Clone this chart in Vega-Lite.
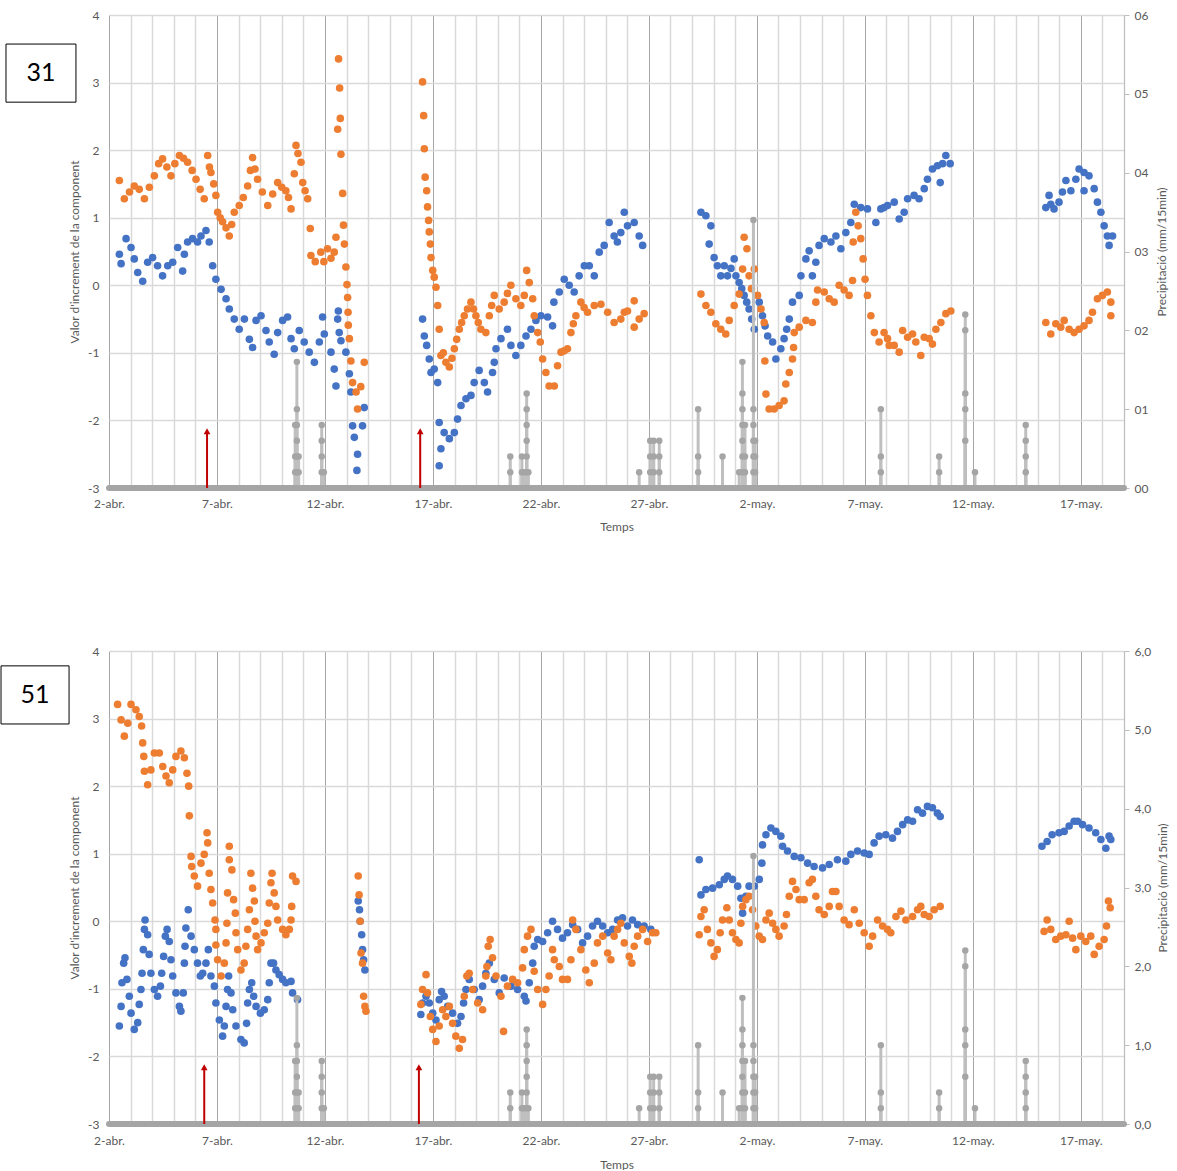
{
"$schema": "https://vega.github.io/schema/vega-lite/v6.json",
"background": "white",
"padding": {"left": 0, "top": 9, "right": 2, "bottom": 0},
"autosize": {"type": "pad"},
"bounds": "flush",
"spacing": 163,
"config": {
  "font": "Lato",
  "view": {"stroke": null},
  "axis": {"labelFont": "Lato", "titleFont": "Lato", "labelFontSize": 12, "titleFontSize": 12, "labelColor": "#595959", "titleColor": "#595959", "titleFontWeight": "normal"}
},
"datasets": {
"b1": [
{"t":0.48,"v":0.46},{"t":0.56,"v":0.32},{"t":0.79,"v":0.69},{"t":1.02,"v":0.56},{"t":1.17,"v":0.39},{"t":1.33,"v":0.19},{"t":1.56,"v":0.06},{"t":1.79,"v":0.34},{"t":2.02,"v":0.41},{"t":2.25,"v":0.29},{"t":2.48,"v":0.14},{"t":2.72,"v":0.29},{"t":2.95,"v":0.34},{"t":3.18,"v":0.56},{"t":3.41,"v":0.21},{"t":3.49,"v":0.46},{"t":3.64,"v":0.64},{"t":3.87,"v":0.69},{"t":4.10,"v":0.64},{"t":4.26,"v":0.73},{"t":4.49,"v":0.81},{"t":4.64,"v":0.64},{"t":4.80,"v":0.29},{"t":4.95,"v":0.09},{"t":5.19,"v":-0.06},{"t":5.42,"v":-0.20},{"t":5.57,"v":-0.35},{"t":5.80,"v":-0.50},{"t":6.03,"v":-0.65},{"t":6.27,"v":-0.50},{"t":6.50,"v":-0.80},{"t":6.65,"v":-0.92},{"t":6.81,"v":-0.52},{"t":7.04,"v":-0.45},{"t":7.27,"v":-0.67},{"t":7.42,"v":-0.84},{"t":7.65,"v":-1.02},{"t":7.81,"v":-0.70},{"t":8.04,"v":-0.52},{"t":8.27,"v":-0.47},{"t":8.43,"v":-0.79},{"t":8.58,"v":-0.94},{"t":8.81,"v":-0.67},{"t":9.04,"v":-0.84},{"t":9.27,"v":-0.99},{"t":9.51,"v":-1.14},{"t":9.74,"v":-0.84},{"t":9.89,"v":-0.47},{"t":9.97,"v":-0.72},{"t":10.28,"v":-0.99},{"t":10.43,"v":-1.24},{"t":10.51,"v":-1.49},{"t":10.59,"v":-0.50},{"t":10.62,"v":-0.38},{"t":10.66,"v":-0.70},{"t":10.74,"v":-0.82},{"t":10.97,"v":-0.99},{"t":11.13,"v":-1.31},{"t":11.20,"v":-1.58},{"t":11.28,"v":-2.08},{"t":11.36,"v":-2.25},{"t":11.51,"v":-2.50},{"t":11.48,"v":-2.74},{"t":11.74,"v":-2.08},{"t":11.82,"v":-1.81},
{"t":14.52,"v":-0.50},{"t":14.60,"v":-0.75},{"t":14.71,"v":-0.89},{"t":14.83,"v":-1.09},{"t":14.91,"v":-1.29},{"t":15.06,"v":-1.24},{"t":15.22,"v":-1.44},{"t":15.29,"v":-2.03},{"t":15.29,"v":-2.67},{"t":15.37,"v":-2.42},{"t":15.52,"v":-2.18},{"t":15.76,"v":-2.27},{"t":15.99,"v":-2.18},{"t":16.14,"v":-1.98},{"t":16.30,"v":-1.78},{"t":16.53,"v":-1.68},{"t":16.76,"v":-1.63},{"t":16.91,"v":-1.44},{"t":17.14,"v":-1.26},{"t":17.38,"v":-1.44},{"t":17.53,"v":-1.58},{"t":17.76,"v":-1.29},{"t":17.84,"v":-1.14},{"t":17.92,"v":-0.94},{"t":18.15,"v":-0.79},{"t":18.45,"v":-0.65},{"t":18.61,"v":-0.89},{"t":18.84,"v":-1.04},{"t":19.07,"v":-0.89},{"t":19.31,"v":-0.75},{"t":19.54,"v":-0.65},{"t":19.77,"v":-0.52},{"t":20.00,"v":-0.45},{"t":20.31,"v":-0.47},{"t":20.54,"v":-0.60},{"t":20.60,"v":-0.25},{"t":20.85,"v":-0.10},{"t":21.08,"v":0.09},{"t":21.31,"v":0.00},{"t":21.54,"v":-0.10},{"t":21.77,"v":0.14},{"t":22.01,"v":0.29},{"t":22.24,"v":0.29},{"t":22.47,"v":0.14},{"t":22.70,"v":0.49},{"t":22.93,"v":0.59},{"t":23.16,"v":0.93},{"t":23.39,"v":0.73},{"t":23.54,"v":0.64},{"t":23.70,"v":0.78},{"t":23.86,"v":1.08},{"t":24.01,"v":0.88},{"t":24.32,"v":0.93},{"t":24.55,"v":0.73},{"t":24.71,"v":0.59},
{"t":27.41,"v":1.08},{"t":27.64,"v":1.03},{"t":27.87,"v":0.88},{"t":27.79,"v":0.61},{"t":28.02,"v":0.41},{"t":28.17,"v":0.29},{"t":28.33,"v":0.14},{"t":28.49,"v":0.29},{"t":28.64,"v":0.14},{"t":28.80,"v":0.25},{"t":28.95,"v":0.39},{"t":29.03,"v":0.14},{"t":29.18,"v":0.04},{"t":29.30,"v":-0.05},{"t":29.41,"v":-0.15},{"t":29.53,"v":-0.25},{"t":29.64,"v":-0.35},{"t":29.76,"v":-0.50},{"t":29.88,"v":-0.65},{"t":30.11,"v":-0.25},{"t":30.26,"v":-0.45},{"t":30.38,"v":-0.60},{"t":30.50,"v":-0.75},{"t":30.73,"v":-0.84},{"t":30.88,"v":-1.09},{"t":31.11,"v":-0.94},{"t":31.26,"v":-0.79},{"t":31.38,"v":-0.65},{"t":31.50,"v":-0.50},{"t":31.65,"v":-0.25},{"t":31.96,"v":-0.15},{"t":32.04,"v":0.14},{"t":32.27,"v":0.39},{"t":32.42,"v":0.51},{"t":32.57,"v":0.14},{"t":32.73,"v":0.34},{"t":32.88,"v":0.59},{"t":33.12,"v":0.69},{"t":33.43,"v":0.64},{"t":33.66,"v":0.73},{"t":33.89,"v":0.54},{"t":34.12,"v":0.78},{"t":34.35,"v":0.93},{"t":34.51,"v":1.20},{"t":34.81,"v":1.15},{"t":35.12,"v":1.13},{"t":35.51,"v":0.93},{"t":35.74,"v":1.13},{"t":35.89,"v":1.15},{"t":36.05,"v":1.18},{"t":36.36,"v":1.23},{"t":36.59,"v":0.98},{"t":36.82,"v":1.08},{"t":36.98,"v":1.28},{"t":37.28,"v":1.33},{"t":37.51,"v":1.28},{"t":37.75,"v":1.43},{"t":37.90,"v":1.57},{"t":38.13,"v":1.72},{"t":38.36,"v":1.77},{"t":38.49,"v":1.52},{"t":38.60,"v":1.80},{"t":38.75,"v":1.92},{"t":38.95,"v":1.80},
{"t":43.38,"v":1.15},{"t":43.53,"v":1.33},{"t":43.61,"v":1.20},{"t":43.76,"v":1.13},{"t":43.99,"v":1.23},{"t":44.15,"v":1.38},{"t":44.31,"v":1.55},{"t":44.54,"v":1.40},{"t":44.77,"v":1.57},{"t":44.92,"v":1.72},{"t":45.15,"v":1.67},{"t":45.15,"v":1.40},{"t":45.38,"v":1.62},{"t":45.62,"v":1.43},{"t":45.77,"v":1.23},{"t":45.93,"v":1.08},{"t":46.08,"v":0.88},{"t":46.23,"v":0.73},{"t":46.31,"v":0.59},{"t":46.47,"v":0.73}
],
"o1": [
{"t":0.48,"v":1.55},{"t":0.71,"v":1.28},{"t":0.95,"v":1.38},{"t":1.17,"v":1.47},{"t":1.40,"v":1.42},{"t":1.64,"v":1.28},{"t":1.87,"v":1.45},{"t":2.10,"v":1.62},{"t":2.30,"v":1.80},{"t":2.48,"v":1.87},{"t":2.68,"v":1.75},{"t":2.87,"v":1.62},{"t":3.05,"v":1.80},{"t":3.26,"v":1.92},{"t":3.45,"v":1.88},{"t":3.64,"v":1.82},{"t":3.85,"v":1.70},{"t":4.03,"v":1.57},{"t":4.22,"v":1.42},{"t":4.41,"v":1.28},{"t":4.57,"v":1.92},{"t":4.65,"v":1.75},{"t":4.72,"v":1.67},{"t":4.85,"v":1.50},{"t":4.95,"v":1.33},{"t":5.03,"v":1.08},{"t":5.15,"v":1.00},{"t":5.26,"v":0.94},{"t":5.42,"v":0.85},{"t":5.57,"v":0.73},{"t":5.68,"v":0.90},{"t":5.80,"v":1.08},{"t":6.03,"v":1.18},{"t":6.22,"v":1.30},{"t":6.42,"v":1.47},{"t":6.55,"v":1.70},{"t":6.65,"v":1.89},{"t":6.76,"v":1.72},{"t":6.88,"v":1.57},{"t":7.10,"v":1.38},{"t":7.35,"v":1.18},{"t":7.58,"v":1.35},{"t":7.81,"v":1.52},{"t":8.00,"v":1.45},{"t":8.19,"v":1.40},{"t":8.31,"v":1.30},{"t":8.43,"v":1.13},{"t":8.58,"v":1.65},{"t":8.66,"v":2.07},{"t":8.75,"v":1.95},{"t":8.89,"v":1.82},{"t":8.97,"v":1.52},{"t":9.08,"v":1.40},{"t":9.20,"v":1.28},{"t":9.32,"v":0.84},{"t":9.35,"v":0.44},{"t":9.55,"v":0.35},{"t":9.81,"v":0.49},{"t":9.95,"v":0.35},{"t":10.12,"v":0.54},{"t":10.28,"v":0.40},{"t":10.43,"v":0.49},{"t":10.51,"v":0.71},{"t":10.59,"v":2.31},{"t":10.63,"v":3.35},{"t":10.68,"v":2.92},{"t":10.71,"v":2.47},{"t":10.74,"v":1.94},{"t":10.82,"v":1.36},{"t":10.86,"v":0.89},{"t":10.90,"v":0.61},{"t":10.97,"v":0.27},{"t":11.02,"v":0.01},{"t":11.05,"v":-0.18},{"t":11.07,"v":-0.40},{"t":11.08,"v":-0.59},{"t":11.13,"v":-0.79},{"t":11.20,"v":-1.12},{"t":11.28,"v":-1.44},{"t":11.44,"v":-1.58},{"t":11.51,"v":-1.83},{"t":11.66,"v":-1.50},{"t":11.82,"v":-1.14},
{"t":14.52,"v":3.01},{"t":14.57,"v":2.51},{"t":14.60,"v":2.02},{"t":14.64,"v":1.60},{"t":14.71,"v":1.40},{"t":14.75,"v":1.16},{"t":14.80,"v":0.96},{"t":14.83,"v":0.79},{"t":14.88,"v":0.61},{"t":14.91,"v":0.41},{"t":14.99,"v":0.22},{"t":15.06,"v":0.12},{"t":15.14,"v":-0.03},{"t":15.22,"v":-0.30},{"t":15.29,"v":-0.65},{"t":15.37,"v":-1.04},{"t":15.48,"v":-1.00},{"t":15.60,"v":-1.14},{"t":15.76,"v":-1.21},{"t":15.88,"v":-1.08},{"t":15.99,"v":-0.94},{"t":16.10,"v":-0.80},{"t":16.22,"v":-0.65},{"t":16.33,"v":-0.55},{"t":16.45,"v":-0.45},{"t":16.60,"v":-0.35},{"t":16.76,"v":-0.25},{"t":16.88,"v":-0.35},{"t":16.99,"v":-0.45},{"t":17.10,"v":-0.55},{"t":17.22,"v":-0.65},{"t":17.45,"v":-0.70},{"t":17.61,"v":-0.45},{"t":17.72,"v":-0.30},{"t":17.84,"v":-0.15},{"t":18.07,"v":-0.35},{"t":18.30,"v":-0.25},{"t":18.45,"v":-0.12},{"t":18.61,"v":0.00},{"t":18.84,"v":-0.20},{"t":19.07,"v":-0.30},{"t":19.23,"v":-0.15},{"t":19.34,"v":0.22},{"t":19.46,"v":0.04},{"t":19.62,"v":-0.20},{"t":19.69,"v":-0.45},{"t":19.85,"v":-0.70},{"t":19.97,"v":-0.84},{"t":20.08,"v":-1.09},{"t":20.23,"v":-1.29},{"t":20.38,"v":-1.49},{"t":20.62,"v":-1.49},{"t":20.77,"v":-1.19},{"t":20.93,"v":-0.99},{"t":21.08,"v":-0.97},{"t":21.23,"v":-0.94},{"t":21.39,"v":-0.70},{"t":21.50,"v":-0.57},{"t":21.62,"v":-0.45},{"t":21.85,"v":-0.25},{"t":22.00,"v":-0.33},{"t":22.16,"v":-0.40},{"t":22.47,"v":-0.30},{"t":22.78,"v":-0.28},{"t":23.09,"v":-0.40},{"t":23.39,"v":-0.55},{"t":23.70,"v":-0.50},{"t":23.86,"v":-0.40},{"t":24.01,"v":-0.38},{"t":24.32,"v":-0.23},{"t":24.32,"v":-0.62},{"t":24.55,"v":-0.50},{"t":24.78,"v":-0.42},
{"t":27.41,"v":-0.13},{"t":27.64,"v":-0.30},{"t":27.87,"v":-0.40},{"t":28.10,"v":-0.57},{"t":28.33,"v":-0.65},{"t":28.56,"v":-0.72},{"t":28.72,"v":-0.52},{"t":28.95,"v":-0.30},{"t":29.18,"v":-0.13},{"t":29.34,"v":0.24},{"t":29.41,"v":0.71},{"t":29.54,"v":0.54},{"t":29.64,"v":0.14},{"t":29.75,"v":-0.05},{"t":29.88,"v":0.24},{"t":30.03,"v":-0.15},{"t":30.19,"v":-0.35},{"t":30.34,"v":-0.55},{"t":30.37,"v":-1.12},{"t":30.42,"v":-1.61},{"t":30.57,"v":-1.83},{"t":30.80,"v":-1.83},{"t":31.03,"v":-1.78},{"t":31.26,"v":-1.71},{"t":31.34,"v":-1.46},{"t":31.50,"v":-1.29},{"t":31.65,"v":-1.09},{"t":31.70,"v":-0.92},{"t":31.73,"v":-0.70},{"t":31.96,"v":-0.62},{"t":32.27,"v":-0.52},{"t":32.57,"v":-0.55},{"t":32.73,"v":-0.25},{"t":32.81,"v":-0.07},{"t":33.12,"v":-0.10},{"t":33.35,"v":-0.20},{"t":33.58,"v":-0.25},{"t":33.81,"v":0.00},{"t":34.04,"v":-0.07},{"t":34.27,"v":-0.15},{"t":34.43,"v":0.07},{"t":34.46,"v":0.64},{"t":34.58,"v":1.08},{"t":34.69,"v":0.88},{"t":34.81,"v":0.69},{"t":34.92,"v":0.39},{"t":35.01,"v":0.09},{"t":35.12,"v":-0.15},{"t":35.28,"v":-0.45},{"t":35.44,"v":-0.70},{"t":35.66,"v":-0.84},{"t":35.89,"v":-0.70},{"t":36.05,"v":-0.79},{"t":36.13,"v":-0.89},{"t":36.36,"v":-0.89},{"t":36.59,"v":-0.99},{"t":36.75,"v":-0.67},{"t":36.98,"v":-0.77},{"t":37.21,"v":-0.72},{"t":37.36,"v":-0.84},{"t":37.59,"v":-1.04},{"t":37.75,"v":-0.77},{"t":37.98,"v":-0.79},{"t":38.13,"v":-0.87},{"t":38.29,"v":-0.65},{"t":38.52,"v":-0.55},{"t":38.75,"v":-0.42},{"t":38.98,"v":-0.38},
{"t":43.38,"v":-0.55},{"t":43.61,"v":-0.72},{"t":43.84,"v":-0.57},{"t":44.07,"v":-0.62},{"t":44.23,"v":-0.52},{"t":44.46,"v":-0.65},{"t":44.69,"v":-0.70},{"t":44.92,"v":-0.65},{"t":45.15,"v":-0.60},{"t":45.38,"v":-0.52},{"t":45.54,"v":-0.40},{"t":45.77,"v":-0.20},{"t":46.00,"v":-0.15},{"t":46.23,"v":-0.10},{"t":46.39,"v":-0.25},{"t":46.39,"v":-0.45}
],
"b2": [
{"t":0.48,"v":-1.55},{"t":0.56,"v":-1.26},{"t":0.60,"v":-0.91},{"t":0.68,"v":-0.62},{"t":0.74,"v":-0.54},{"t":0.83,"v":-0.86},{"t":0.94,"v":-1.11},{"t":1.02,"v":-1.36},{"t":1.17,"v":-1.60},{"t":1.33,"v":-1.50},{"t":1.40,"v":-1.23},{"t":1.48,"v":-1.01},{"t":1.53,"v":-0.77},{"t":1.59,"v":-0.42},{"t":1.64,"v":-0.12},{"t":1.67,"v":0.02},{"t":1.79,"v":-0.20},{"t":1.86,"v":-0.49},{"t":1.94,"v":-0.77},{"t":2.10,"v":-1.01},{"t":2.25,"v":-1.11},{"t":2.38,"v":-0.96},{"t":2.44,"v":-0.77},{"t":2.53,"v":-0.52},{"t":2.61,"v":-0.22},{"t":2.69,"v":-0.12},{"t":2.79,"v":-0.30},{"t":2.87,"v":-0.57},{"t":2.95,"v":-0.81},{"t":3.10,"v":-1.06},{"t":3.26,"v":-1.26},{"t":3.33,"v":-1.33},{"t":3.44,"v":-1.06},{"t":3.49,"v":-0.62},{"t":3.52,"v":-0.37},{"t":3.56,"v":-0.10},{"t":3.67,"v":0.17},{"t":3.80,"v":-0.22},{"t":3.95,"v":-0.42},{"t":4.10,"v":-0.62},{"t":4.23,"v":-0.81},{"t":4.34,"v":-0.77},{"t":4.49,"v":-0.62},{"t":4.60,"v":-0.42},{"t":4.72,"v":-0.81},{"t":4.88,"v":-0.96},{"t":4.95,"v":-1.21},{"t":5.11,"v":-1.46},{"t":5.26,"v":-1.70},{"t":5.34,"v":-1.55},{"t":5.42,"v":-1.26},{"t":5.49,"v":-1.01},{"t":5.54,"v":-0.81},{"t":5.65,"v":-1.06},{"t":5.73,"v":-1.31},{"t":5.88,"v":-1.55},{"t":6.11,"v":-1.75},{"t":6.26,"v":-1.80},{"t":6.37,"v":-1.51},{"t":6.42,"v":-1.21},{"t":6.50,"v":-1.01},{"t":6.61,"v":-0.91},{"t":6.70,"v":-1.11},{"t":6.81,"v":-1.26},{"t":7.01,"v":-1.36},{"t":7.19,"v":-1.31},{"t":7.35,"v":-1.16},{"t":7.42,"v":-0.91},{"t":7.50,"v":-0.62},{"t":7.62,"v":-0.62},{"t":7.73,"v":-0.72},{"t":7.88,"v":-0.79},{"t":8.04,"v":-0.86},{"t":8.19,"v":-0.91},{"t":8.43,"v":-0.89},{"t":8.50,"v":-1.06},{"t":8.73,"v":-1.16},
{"t":11.54,"v":0.30},{"t":11.60,"v":0.17},{"t":11.63,"v":0.00},{"t":11.70,"v":-0.20},{"t":11.74,"v":-0.42},{"t":11.79,"v":-0.57},{"t":11.85,"v":-0.72},
{"t":14.44,"v":-1.38},{"t":14.52,"v":-1.21},{"t":14.68,"v":-1.11},{"t":14.83,"v":-1.21},{"t":14.99,"v":-1.36},{"t":15.14,"v":-1.46},{"t":15.29,"v":-1.16},{"t":15.40,"v":-1.04},{"t":15.52,"v":-1.11},{"t":15.68,"v":-1.26},{"t":15.91,"v":-1.36},{"t":16.14,"v":-1.51},{"t":16.30,"v":-1.41},{"t":16.42,"v":-1.21},{"t":16.53,"v":-1.01},{"t":16.68,"v":-0.86},{"t":16.91,"v":-1.01},{"t":17.14,"v":-1.16},{"t":17.30,"v":-0.96},{"t":17.45,"v":-0.77},{"t":17.61,"v":-0.62},{"t":17.84,"v":-0.86},{"t":18.07,"v":-1.06},{"t":18.30,"v":-0.84},{"t":18.61,"v":-0.96},{"t":18.92,"v":-1.01},{"t":19.23,"v":-1.11},{"t":19.31,"v":-1.18},{"t":19.46,"v":-0.91},{"t":19.62,"v":-0.62},{"t":19.69,"v":-0.37},{"t":19.85,"v":-0.27},{"t":20.08,"v":-0.30},{"t":20.31,"v":-0.17},{"t":20.54,"v":0.00},{"t":20.77,"v":-0.12},{"t":21.00,"v":-0.25},{"t":21.23,"v":-0.17},{"t":21.47,"v":-0.05},{"t":21.70,"v":-0.12},{"t":21.93,"v":-0.32},{"t":22.16,"v":-0.22},{"t":22.39,"v":-0.07},{"t":22.62,"v":0.00},{"t":22.86,"v":-0.07},{"t":23.09,"v":-0.17},{"t":23.32,"v":-0.12},{"t":23.55,"v":0.02},{"t":23.78,"v":0.05},{"t":24.01,"v":-0.07},{"t":24.24,"v":0.02},{"t":24.48,"v":-0.05},{"t":24.78,"v":-0.07},{"t":25.09,"v":-0.12},
{"t":27.33,"v":0.91},{"t":27.41,"v":0.39},{"t":27.64,"v":0.47},{"t":27.95,"v":0.49},{"t":28.26,"v":0.54},{"t":28.49,"v":0.62},{"t":28.64,"v":0.67},{"t":28.87,"v":0.62},{"t":29.11,"v":0.52},{"t":29.26,"v":0.34},{"t":29.34,"v":0.12},{"t":29.49,"v":0.37},{"t":29.64,"v":0.52},{"t":29.88,"v":0.52},{"t":30.11,"v":0.62},{"t":30.23,"v":0.86},{"t":30.26,"v":1.13},{"t":30.42,"v":1.28},{"t":30.65,"v":1.38},{"t":30.88,"v":1.33},{"t":31.11,"v":1.26},{"t":31.19,"v":1.11},{"t":31.42,"v":1.04},{"t":31.73,"v":0.96},{"t":32.04,"v":0.94},{"t":32.35,"v":0.86},{"t":32.65,"v":0.81},{"t":33.04,"v":0.79},{"t":33.35,"v":0.84},{"t":33.73,"v":0.91},{"t":34.12,"v":0.89},{"t":34.35,"v":0.99},{"t":34.66,"v":1.04},{"t":34.97,"v":1.01},{"t":35.20,"v":0.99},{"t":35.43,"v":1.16},{"t":35.66,"v":1.26},{"t":35.97,"v":1.28},{"t":36.28,"v":1.23},{"t":36.51,"v":1.33},{"t":36.75,"v":1.43},{"t":36.98,"v":1.50},{"t":37.21,"v":1.48},{"t":37.44,"v":1.65},{"t":37.67,"v":1.60},{"t":37.90,"v":1.70},{"t":38.13,"v":1.68},{"t":38.36,"v":1.60},{"t":38.49,"v":1.55},
{"t":43.20,"v":1.11},{"t":43.44,"v":1.18},{"t":43.67,"v":1.28},{"t":43.99,"v":1.31},{"t":44.23,"v":1.33},{"t":44.46,"v":1.41},{"t":44.69,"v":1.48},{"t":44.85,"v":1.48},{"t":45.08,"v":1.43},{"t":45.38,"v":1.38},{"t":45.69,"v":1.31},{"t":45.93,"v":1.21},{"t":46.16,"v":1.08},{"t":46.31,"v":1.26},{"t":46.39,"v":1.21}
],
"o2": [
{"t":0.40,"v":3.21},{"t":0.56,"v":2.98},{"t":0.71,"v":2.74},{"t":0.87,"v":2.93},{"t":1.02,"v":3.21},{"t":1.25,"v":3.13},{"t":1.40,"v":3.03},{"t":1.51,"v":2.89},{"t":1.56,"v":2.64},{"t":1.61,"v":2.44},{"t":1.64,"v":2.22},{"t":1.79,"v":2.02},{"t":1.94,"v":2.24},{"t":2.10,"v":2.49},{"t":2.33,"v":2.49},{"t":2.49,"v":2.29},{"t":2.64,"v":2.15},{"t":2.79,"v":2.05},{"t":2.95,"v":2.24},{"t":3.10,"v":2.44},{"t":3.33,"v":2.52},{"t":3.49,"v":2.42},{"t":3.61,"v":2.19},{"t":3.69,"v":2.00},{"t":3.72,"v":1.56},{"t":3.80,"v":0.96},{"t":3.83,"v":0.81},{"t":3.95,"v":0.67},{"t":4.10,"v":0.52},{"t":4.26,"v":0.86},{"t":4.41,"v":0.99},{"t":4.54,"v":1.31},{"t":4.57,"v":1.16},{"t":4.64,"v":0.71},{"t":4.72,"v":0.47},{"t":4.80,"v":0.27},{"t":4.91,"v":0.02},{"t":4.95,"v":-0.12},{"t":4.95,"v":-0.35},{"t":5.03,"v":-0.57},{"t":5.19,"v":-0.81},{"t":5.34,"v":-0.62},{"t":5.42,"v":-0.32},{"t":5.46,"v":-0.03},{"t":5.49,"v":0.42},{"t":5.57,"v":0.91},{"t":5.57,"v":1.11},{"t":5.69,"v":0.76},{"t":5.77,"v":0.32},{"t":5.85,"v":0.12},{"t":5.88,"v":-0.17},{"t":5.96,"v":-0.42},{"t":6.11,"v":-0.72},{"t":6.26,"v":-0.62},{"t":6.34,"v":-0.37},{"t":6.42,"v":-0.12},{"t":6.50,"v":0.17},{"t":6.57,"v":0.71},{"t":6.65,"v":0.49},{"t":6.73,"v":0.30},{"t":6.76,"v":0.00},{"t":6.81,"v":-0.22},{"t":6.88,"v":-0.42},{"t":7.04,"v":-0.32},{"t":7.19,"v":-0.17},{"t":7.35,"v":-0.03},{"t":7.42,"v":0.27},{"t":7.50,"v":0.57},{"t":7.55,"v":0.71},{"t":7.65,"v":0.42},{"t":7.73,"v":0.22},{"t":7.81,"v":0.02},{"t":8.04,"v":-0.12},{"t":8.19,"v":-0.20},{"t":8.35,"v":-0.12},{"t":8.43,"v":0.02},{"t":8.46,"v":0.22},{"t":8.50,"v":0.67},{"t":8.66,"v":0.59},
{"t":11.54,"v":0.67},{"t":11.58,"v":0.39},{"t":11.63,"v":0.00},{"t":11.67,"v":-0.47},{"t":11.74,"v":-0.62},{"t":11.79,"v":-1.11},{"t":11.85,"v":-1.26},{"t":11.90,"v":-1.33},
{"t":14.44,"v":-1.23},{"t":14.52,"v":-1.01},{"t":14.68,"v":-0.79},{"t":14.75,"v":-1.06},{"t":14.88,"v":-1.41},{"t":14.99,"v":-1.60},{"t":15.14,"v":-1.78},{"t":15.29,"v":-1.55},{"t":15.45,"v":-1.31},{"t":15.60,"v":-1.41},{"t":15.76,"v":-1.26},{"t":15.91,"v":-1.51},{"t":16.06,"v":-1.70},{"t":16.22,"v":-1.88},{"t":16.37,"v":-1.75},{"t":16.45,"v":-1.11},{"t":16.57,"v":-0.81},{"t":16.68,"v":-0.77},{"t":16.84,"v":-1.01},{"t":17.07,"v":-1.21},{"t":17.30,"v":-1.31},{"t":17.45,"v":-0.81},{"t":17.50,"v":-0.67},{"t":17.56,"v":-0.37},{"t":17.65,"v":-0.27},{"t":17.76,"v":-0.54},{"t":17.92,"v":-0.81},{"t":18.15,"v":-1.11},{"t":18.27,"v":-1.63},{"t":18.45,"v":-0.96},{"t":18.69,"v":-0.86},{"t":18.92,"v":-0.91},{"t":19.15,"v":-0.69},{"t":19.23,"v":-0.42},{"t":19.38,"v":-0.22},{"t":19.54,"v":-0.12},{"t":19.69,"v":-0.74},{"t":19.85,"v":-1.01},{"t":20.08,"v":-1.23},{"t":20.23,"v":-1.01},{"t":20.38,"v":-0.81},{"t":20.54,"v":-0.42},{"t":20.62,"v":-0.57},{"t":20.85,"v":-0.67},{"t":21.00,"v":-0.86},{"t":21.23,"v":-0.86},{"t":21.39,"v":-0.57},{"t":21.47,"v":0.02},{"t":21.62,"v":-0.12},{"t":21.85,"v":-0.42},{"t":22.08,"v":-0.72},{"t":22.24,"v":-0.91},{"t":22.47,"v":-0.62},{"t":22.62,"v":-0.32},{"t":22.86,"v":-0.22},{"t":23.09,"v":-0.47},{"t":23.24,"v":-0.57},{"t":23.39,"v":-0.22},{"t":23.55,"v":-0.12},{"t":23.70,"v":-0.03},{"t":23.86,"v":-0.32},{"t":24.09,"v":-0.52},{"t":24.21,"v":-0.62},{"t":24.32,"v":-0.37},{"t":24.48,"v":-0.22},{"t":24.71,"v":-0.12},{"t":24.94,"v":-0.30},{"t":25.17,"v":-0.17},{"t":25.32,"v":-0.17},
{"t":27.33,"v":-0.20},{"t":27.41,"v":0.07},{"t":27.56,"v":0.17},{"t":27.71,"v":-0.12},{"t":27.87,"v":-0.32},{"t":28.02,"v":-0.52},{"t":28.17,"v":-0.42},{"t":28.30,"v":-0.17},{"t":28.41,"v":0.02},{"t":28.61,"v":0.20},{"t":28.72,"v":0.02},{"t":28.87,"v":-0.17},{"t":29.03,"v":-0.27},{"t":29.18,"v":-0.32},{"t":29.26,"v":-0.03},{"t":29.34,"v":0.22},{"t":29.49,"v":0.32},{"t":29.64,"v":0.37},{"t":29.80,"v":0.17},{"t":29.95,"v":-0.07},{"t":30.11,"v":-0.22},{"t":30.26,"v":-0.27},{"t":30.42,"v":0.02},{"t":30.57,"v":0.12},{"t":30.73,"v":-0.03},{"t":30.88,"v":-0.12},{"t":31.03,"v":-0.22},{"t":31.26,"v":-0.07},{"t":31.37,"v":0.10},{"t":31.50,"v":0.37},{"t":31.65,"v":0.59},{"t":31.81,"v":0.47},{"t":31.96,"v":0.32},{"t":32.19,"v":0.32},{"t":32.42,"v":0.57},{"t":32.57,"v":0.62},{"t":32.73,"v":0.37},{"t":32.88,"v":0.17},{"t":33.12,"v":0.10},{"t":33.35,"v":0.22},{"t":33.50,"v":0.44},{"t":33.66,"v":0.44},{"t":33.81,"v":0.22},{"t":34.04,"v":0.02},{"t":34.27,"v":-0.05},{"t":34.51,"v":0.17},{"t":34.74,"v":-0.03},{"t":34.97,"v":-0.17},{"t":35.20,"v":-0.37},{"t":35.36,"v":-0.22},{"t":35.59,"v":0.02},{"t":35.82,"v":-0.07},{"t":36.05,"v":-0.12},{"t":36.20,"v":-0.17},{"t":36.44,"v":0.07},{"t":36.67,"v":0.15},{"t":36.90,"v":0.02},{"t":37.21,"v":0.07},{"t":37.44,"v":0.17},{"t":37.59,"v":0.22},{"t":37.75,"v":0.10},{"t":37.98,"v":0.07},{"t":38.21,"v":0.17},{"t":38.49,"v":0.22},
{"t":43.30,"v":-0.15},{"t":43.44,"v":0.02},{"t":43.61,"v":-0.12},{"t":43.84,"v":-0.27},{"t":44.07,"v":-0.22},{"t":44.31,"v":-0.20},{"t":44.46,"v":0.00},{"t":44.62,"v":-0.25},{"t":44.77,"v":-0.42},{"t":45.00,"v":-0.22},{"t":45.23,"v":-0.30},{"t":45.46,"v":-0.22},{"t":45.62,"v":-0.49},{"t":45.85,"v":-0.37},{"t":46.08,"v":-0.27},{"t":46.19,"v":-0.07},{"t":46.28,"v":0.30},{"t":46.36,"v":0.20}
],
"rain": [
{"t":8.62,"p":0.2},{"t":8.62,"p":0.4},{"t":8.62,"p":0.8},
{"t":8.70,"p":0.2},{"t":8.70,"p":0.4},{"t":8.70,"p":0.6},{"t":8.70,"p":0.8},{"t":8.70,"p":1.0},{"t":8.70,"p":1.6},
{"t":8.78,"p":0.2},{"t":8.78,"p":0.4},
{"t":9.85,"p":0.2},{"t":9.85,"p":0.4},{"t":9.85,"p":0.6},{"t":9.85,"p":0.8},{"t":9.95,"p":0.2},
{"t":18.58,"p":0.2},{"t":18.58,"p":0.4},
{"t":19.12,"p":0.2},{"t":19.12,"p":0.4},{"t":19.22,"p":0.2},
{"t":19.34,"p":0.2},{"t":19.34,"p":0.4},{"t":19.34,"p":0.6},{"t":19.34,"p":0.8},{"t":19.34,"p":1.0},{"t":19.34,"p":1.2},{"t":19.42,"p":0.2},
{"t":24.55,"p":0.2},
{"t":25.06,"p":0.2},{"t":25.06,"p":0.4},{"t":25.06,"p":0.6},
{"t":25.22,"p":0.2},{"t":25.22,"p":0.4},{"t":25.22,"p":0.6},
{"t":25.48,"p":0.2},{"t":25.48,"p":0.4},{"t":25.48,"p":0.6},
{"t":27.28,"p":0.2},{"t":27.28,"p":0.4},{"t":27.28,"p":1.0},
{"t":28.41,"p":0.4},
{"t":29.18,"p":0.2},
{"t":29.33,"p":0.2},{"t":29.33,"p":0.4},{"t":29.33,"p":0.6},{"t":29.33,"p":0.8},{"t":29.33,"p":1.0},{"t":29.33,"p":1.2},{"t":29.33,"p":1.6},
{"t":29.45,"p":0.2},{"t":29.45,"p":0.4},{"t":29.45,"p":0.8},
{"t":29.84,"p":0.2},{"t":29.84,"p":0.4},{"t":29.84,"p":0.6},{"t":29.84,"p":0.8},{"t":29.84,"p":1.0},{"t":29.84,"p":3.4},
{"t":29.92,"p":0.2},{"t":29.92,"p":0.4},{"t":29.92,"p":0.6},
{"t":35.74,"p":0.2},{"t":35.74,"p":0.4},{"t":35.74,"p":1.0},
{"t":38.44,"p":0.2},{"t":38.44,"p":0.4},
{"t":39.65,"p":0.6},{"t":39.65,"p":1.0},{"t":39.65,"p":1.2},{"t":39.65,"p":2.0},{"t":39.65,"p":2.2},
{"t":40.10,"p":0.2},
{"t":42.45,"p":0.2},{"t":42.45,"p":0.4},{"t":42.45,"p":0.6},{"t":42.45,"p":0.8}
],
"arr1": [{"t":4.54},{"t":14.41}],
"arr2": [{"t":4.41},{"t":14.35}]
},
"vconcat": [
{
"width": 1015, "height": 473,
"resolve": {"scale": {"y": "independent"}, "axis": {"y": "independent"}},
"layer": [
{"data": {"name": "b1"}, "mark": {"type": "circle", "size": 58, "color": "#4472C4", "opacity": 1},
 "encoding": {
  "x": {"field": "t", "type": "quantitative", "title": "Temps", "scale": {"domain": [0, 47], "nice": false, "zero": false},
   "axis": {"values": [0,1,2,3,4,5,6,7,8,9,10,11,12,13,14,15,16,17,18,19,20,21,22,23,24,25,26,27,28,29,30,31,32,33,34,35,36,37,38,39,40,41,42,43,44,45,46,47], "labelExpr": "datum.value % 5 === 0 ? (datum.value < 29 ? (datum.value + 2) + '-abr.' : (datum.value - 28) + '-may.') : ''", "labelOverlap": false, "labelFlush": false, "ticks": false, "domain": false, "grid": true, "gridColor": {"condition": {"test": "datum.value % 5 === 0", "value": "#A6A6A6"}, "value": "#D9D9D9"}, "gridWidth": {"condition": {"test": "datum.value % 5 === 0", "value": 1}, "value": 1.5}, "labelPadding": 10, "titlePadding": 12, "title": "Temps"}},
  "y": {"field": "v", "type": "quantitative", "scale": {"domain": [-3, 4], "nice": false, "zero": false},
   "axis": {"values": [-3,-2,-1,0,1,2,3,4], "labelExpr": "'' + datum.value", "labelFlush": false, "ticks": false, "domain": false, "grid": true, "gridColor": "#D9D9D9", "gridWidth": 1.5, "labelPadding": 10, "titlePadding": 6, "title": "Valor d'increment de la component"}}
 }},
{"data": {"name": "o1"}, "mark": {"type": "circle", "size": 58, "color": "#ED7D31", "opacity": 1},
 "encoding": {
  "x": {"field": "t", "type": "quantitative", "title": "Temps", "scale": {"domain": [0, 47], "nice": false, "zero": false},
   "axis": {"values": [0,1,2,3,4,5,6,7,8,9,10,11,12,13,14,15,16,17,18,19,20,21,22,23,24,25,26,27,28,29,30,31,32,33,34,35,36,37,38,39,40,41,42,43,44,45,46,47], "labelExpr": "datum.value % 5 === 0 ? (datum.value < 29 ? (datum.value + 2) + '-abr.' : (datum.value - 28) + '-may.') : ''", "labelOverlap": false, "labelFlush": false, "ticks": false, "domain": false, "grid": true, "gridColor": {"condition": {"test": "datum.value % 5 === 0", "value": "#A6A6A6"}, "value": "#D9D9D9"}, "gridWidth": {"condition": {"test": "datum.value % 5 === 0", "value": 1}, "value": 1.5}, "labelPadding": 10, "titlePadding": 12, "title": "Temps"}},
  "y": {"field": "v", "type": "quantitative", "scale": {"domain": [-3, 4], "nice": false, "zero": false}, "axis": null}
 }},
{"data": {"name": "rain"}, "mark": {"type": "rule", "color": "#BFBFBF", "strokeWidth": 3},
 "encoding": {
  "x": {"field": "t", "type": "quantitative", "title": "Temps", "scale": {"domain": [0, 47], "nice": false, "zero": false},
   "axis": {"values": [0,1,2,3,4,5,6,7,8,9,10,11,12,13,14,15,16,17,18,19,20,21,22,23,24,25,26,27,28,29,30,31,32,33,34,35,36,37,38,39,40,41,42,43,44,45,46,47], "labelExpr": "datum.value % 5 === 0 ? (datum.value < 29 ? (datum.value + 2) + '-abr.' : (datum.value - 28) + '-may.') : ''", "labelOverlap": false, "labelFlush": false, "ticks": false, "domain": false, "grid": true, "gridColor": {"condition": {"test": "datum.value % 5 === 0", "value": "#A6A6A6"}, "value": "#D9D9D9"}, "gridWidth": {"condition": {"test": "datum.value % 5 === 0", "value": 1}, "value": 1.5}, "labelPadding": 10, "titlePadding": 12, "title": "Temps"}},
  "y": {"field": "p", "type": "quantitative", "scale": {"domain": [0, 6], "nice": false, "zero": false},
   "axis": {"orient": "right", "values": [0,1,2,3,4,5,6], "labelExpr": "'0' + datum.value", "labelFlush": false, "grid": false, "ticks": true, "tickSize": 5, "tickColor": "#BFBFBF", "domain": true, "domainColor": "#BFBFBF", "labelPadding": 5, "titlePadding": 9, "titleAngle": 270, "titleBaseline": "top", "title": "Precipitació (mm/15min)"}},
  "y2": {"datum": 0}
 }},
{"data": {"name": "rain"}, "mark": {"type": "circle", "size": 42, "color": "#A5A5A5", "opacity": 1},
 "encoding": {
  "x": {"field": "t", "type": "quantitative", "title": "Temps", "scale": {"domain": [0, 47], "nice": false, "zero": false},
   "axis": {"values": [0,1,2,3,4,5,6,7,8,9,10,11,12,13,14,15,16,17,18,19,20,21,22,23,24,25,26,27,28,29,30,31,32,33,34,35,36,37,38,39,40,41,42,43,44,45,46,47], "labelExpr": "datum.value % 5 === 0 ? (datum.value < 29 ? (datum.value + 2) + '-abr.' : (datum.value - 28) + '-may.') : ''", "labelOverlap": false, "labelFlush": false, "ticks": false, "domain": false, "grid": true, "gridColor": {"condition": {"test": "datum.value % 5 === 0", "value": "#A6A6A6"}, "value": "#D9D9D9"}, "gridWidth": {"condition": {"test": "datum.value % 5 === 0", "value": 1}, "value": 1.5}, "labelPadding": 10, "titlePadding": 12, "title": "Temps"}},
  "y": {"field": "p", "type": "quantitative", "scale": {"domain": [0, 6], "nice": false, "zero": false}, "axis": null}
 }},
{"data": {"values": [{}]}, "mark": {"type": "rule", "color": "#A5A5A5", "strokeWidth": 6, "strokeCap": "round"},
 "encoding": {
  "x": {"datum": 0, "type": "quantitative", "title": "Temps", "scale": {"domain": [0, 47], "nice": false, "zero": false},
   "axis": {"values": [0,1,2,3,4,5,6,7,8,9,10,11,12,13,14,15,16,17,18,19,20,21,22,23,24,25,26,27,28,29,30,31,32,33,34,35,36,37,38,39,40,41,42,43,44,45,46,47], "labelExpr": "datum.value % 5 === 0 ? (datum.value < 29 ? (datum.value + 2) + '-abr.' : (datum.value - 28) + '-may.') : ''", "labelOverlap": false, "labelFlush": false, "ticks": false, "domain": false, "grid": true, "gridColor": {"condition": {"test": "datum.value % 5 === 0", "value": "#A6A6A6"}, "value": "#D9D9D9"}, "gridWidth": {"condition": {"test": "datum.value % 5 === 0", "value": 1}, "value": 1.5}, "labelPadding": 10, "titlePadding": 12, "title": "Temps"}},
  "x2": {"datum": 47},
  "y": {"datum": 0, "type": "quantitative", "scale": {"domain": [0, 6], "nice": false, "zero": false}, "axis": null}
 }},
{"data": {"name": "arr1"}, "mark": {"type": "rule", "color": "#C00000", "strokeWidth": 2},
 "encoding": {
  "x": {"field": "t", "type": "quantitative", "title": "Temps", "scale": {"domain": [0, 47], "nice": false, "zero": false},
   "axis": {"values": [0,1,2,3,4,5,6,7,8,9,10,11,12,13,14,15,16,17,18,19,20,21,22,23,24,25,26,27,28,29,30,31,32,33,34,35,36,37,38,39,40,41,42,43,44,45,46,47], "labelExpr": "datum.value % 5 === 0 ? (datum.value < 29 ? (datum.value + 2) + '-abr.' : (datum.value - 28) + '-may.') : ''", "labelOverlap": false, "labelFlush": false, "ticks": false, "domain": false, "grid": true, "gridColor": {"condition": {"test": "datum.value % 5 === 0", "value": "#A6A6A6"}, "value": "#D9D9D9"}, "gridWidth": {"condition": {"test": "datum.value % 5 === 0", "value": 1}, "value": 1.5}, "labelPadding": 10, "titlePadding": 12, "title": "Temps"}},
  "y": {"datum": -3, "type": "quantitative", "scale": {"domain": [-3, 4], "nice": false, "zero": false}, "axis": null},
  "y2": {"datum": -2.18}
 }},
{"data": {"name": "arr1"}, "mark": {"type": "point", "shape": "triangle-up", "filled": true, "color": "#C00000", "size": 45, "opacity": 1},
 "encoding": {
  "x": {"field": "t", "type": "quantitative", "title": "Temps", "scale": {"domain": [0, 47], "nice": false, "zero": false},
   "axis": {"values": [0,1,2,3,4,5,6,7,8,9,10,11,12,13,14,15,16,17,18,19,20,21,22,23,24,25,26,27,28,29,30,31,32,33,34,35,36,37,38,39,40,41,42,43,44,45,46,47], "labelExpr": "datum.value % 5 === 0 ? (datum.value < 29 ? (datum.value + 2) + '-abr.' : (datum.value - 28) + '-may.') : ''", "labelOverlap": false, "labelFlush": false, "ticks": false, "domain": false, "grid": true, "gridColor": {"condition": {"test": "datum.value % 5 === 0", "value": "#A6A6A6"}, "value": "#D9D9D9"}, "gridWidth": {"condition": {"test": "datum.value % 5 === 0", "value": 1}, "value": 1.5}, "labelPadding": 10, "titlePadding": 12, "title": "Temps"}},
  "y": {"datum": -2.16, "type": "quantitative", "scale": {"domain": [-3, 4], "nice": false, "zero": false}, "axis": null}
 }},
{"data": {"values": [{"label": "31"}]}, "mark": {"type": "rect", "fill": "white", "stroke": "black", "strokeWidth": 1},
 "encoding": {
  "x": {"datum": -4.77, "type": "quantitative", "title": "Temps", "scale": {"domain": [0, 47], "nice": false, "zero": false},
   "axis": {"values": [0,1,2,3,4,5,6,7,8,9,10,11,12,13,14,15,16,17,18,19,20,21,22,23,24,25,26,27,28,29,30,31,32,33,34,35,36,37,38,39,40,41,42,43,44,45,46,47], "labelExpr": "datum.value % 5 === 0 ? (datum.value < 29 ? (datum.value + 2) + '-abr.' : (datum.value - 28) + '-may.') : ''", "labelOverlap": false, "labelFlush": false, "ticks": false, "domain": false, "grid": true, "gridColor": {"condition": {"test": "datum.value % 5 === 0", "value": "#A6A6A6"}, "value": "#D9D9D9"}, "gridWidth": {"condition": {"test": "datum.value % 5 === 0", "value": 1}, "value": 1.5}, "labelPadding": 10, "titlePadding": 12, "title": "Temps"}},
  "x2": {"datum": -1.53},
  "y": {"datum": 3.57, "type": "quantitative", "scale": {"domain": [-3, 4], "nice": false, "zero": false}, "axis": null},
  "y2": {"datum": 2.71}
 }},
{"data": {"values": [{"label": "31"}]}, "mark": {"type": "text", "font": "Lato", "fontSize": 25, "color": "black", "align": "center", "baseline": "middle"},
 "encoding": {
  "x": {"datum": -3.15, "type": "quantitative", "title": "Temps", "scale": {"domain": [0, 47], "nice": false, "zero": false},
   "axis": {"values": [0,1,2,3,4,5,6,7,8,9,10,11,12,13,14,15,16,17,18,19,20,21,22,23,24,25,26,27,28,29,30,31,32,33,34,35,36,37,38,39,40,41,42,43,44,45,46,47], "labelExpr": "datum.value % 5 === 0 ? (datum.value < 29 ? (datum.value + 2) + '-abr.' : (datum.value - 28) + '-may.') : ''", "labelOverlap": false, "labelFlush": false, "ticks": false, "domain": false, "grid": true, "gridColor": {"condition": {"test": "datum.value % 5 === 0", "value": "#A6A6A6"}, "value": "#D9D9D9"}, "gridWidth": {"condition": {"test": "datum.value % 5 === 0", "value": 1}, "value": 1.5}, "labelPadding": 10, "titlePadding": 12, "title": "Temps"}},
  "y": {"datum": 3.14, "type": "quantitative", "scale": {"domain": [-3, 4], "nice": false, "zero": false}, "axis": null},
  "text": {"field": "label"}
 }}
]
},
{
"width": 1015, "height": 473,
"resolve": {"scale": {"y": "independent"}, "axis": {"y": "independent"}},
"layer": [
{"data": {"name": "b2"}, "mark": {"type": "circle", "size": 58, "color": "#4472C4", "opacity": 1},
 "encoding": {
  "x": {"field": "t", "type": "quantitative", "title": "Temps", "scale": {"domain": [0, 47], "nice": false, "zero": false},
   "axis": {"values": [0,1,2,3,4,5,6,7,8,9,10,11,12,13,14,15,16,17,18,19,20,21,22,23,24,25,26,27,28,29,30,31,32,33,34,35,36,37,38,39,40,41,42,43,44,45,46,47], "labelExpr": "datum.value % 5 === 0 ? (datum.value < 29 ? (datum.value + 2) + '-abr.' : (datum.value - 28) + '-may.') : ''", "labelOverlap": false, "labelFlush": false, "ticks": false, "domain": false, "grid": true, "gridColor": {"condition": {"test": "datum.value % 5 === 0", "value": "#A6A6A6"}, "value": "#D9D9D9"}, "gridWidth": {"condition": {"test": "datum.value % 5 === 0", "value": 1}, "value": 1.5}, "labelPadding": 11, "titlePadding": 13, "title": "Temps"}},
  "y": {"field": "v", "type": "quantitative", "scale": {"domain": [-3, 4], "nice": false, "zero": false},
   "axis": {"values": [-3,-2,-1,0,1,2,3,4], "labelExpr": "'' + datum.value", "labelFlush": false, "ticks": false, "domain": false, "grid": true, "gridColor": "#D9D9D9", "gridWidth": 1.5, "labelPadding": 10, "titlePadding": 6, "title": "Valor d'increment de la component"}}
 }},
{"data": {"name": "o2"}, "mark": {"type": "circle", "size": 58, "color": "#ED7D31", "opacity": 1},
 "encoding": {
  "x": {"field": "t", "type": "quantitative", "title": "Temps", "scale": {"domain": [0, 47], "nice": false, "zero": false},
   "axis": {"values": [0,1,2,3,4,5,6,7,8,9,10,11,12,13,14,15,16,17,18,19,20,21,22,23,24,25,26,27,28,29,30,31,32,33,34,35,36,37,38,39,40,41,42,43,44,45,46,47], "labelExpr": "datum.value % 5 === 0 ? (datum.value < 29 ? (datum.value + 2) + '-abr.' : (datum.value - 28) + '-may.') : ''", "labelOverlap": false, "labelFlush": false, "ticks": false, "domain": false, "grid": true, "gridColor": {"condition": {"test": "datum.value % 5 === 0", "value": "#A6A6A6"}, "value": "#D9D9D9"}, "gridWidth": {"condition": {"test": "datum.value % 5 === 0", "value": 1}, "value": 1.5}, "labelPadding": 11, "titlePadding": 13, "title": "Temps"}},
  "y": {"field": "v", "type": "quantitative", "scale": {"domain": [-3, 4], "nice": false, "zero": false}, "axis": null}
 }},
{"data": {"name": "rain"}, "mark": {"type": "rule", "color": "#BFBFBF", "strokeWidth": 3},
 "encoding": {
  "x": {"field": "t", "type": "quantitative", "title": "Temps", "scale": {"domain": [0, 47], "nice": false, "zero": false},
   "axis": {"values": [0,1,2,3,4,5,6,7,8,9,10,11,12,13,14,15,16,17,18,19,20,21,22,23,24,25,26,27,28,29,30,31,32,33,34,35,36,37,38,39,40,41,42,43,44,45,46,47], "labelExpr": "datum.value % 5 === 0 ? (datum.value < 29 ? (datum.value + 2) + '-abr.' : (datum.value - 28) + '-may.') : ''", "labelOverlap": false, "labelFlush": false, "ticks": false, "domain": false, "grid": true, "gridColor": {"condition": {"test": "datum.value % 5 === 0", "value": "#A6A6A6"}, "value": "#D9D9D9"}, "gridWidth": {"condition": {"test": "datum.value % 5 === 0", "value": 1}, "value": 1.5}, "labelPadding": 11, "titlePadding": 13, "title": "Temps"}},
  "y": {"field": "p", "type": "quantitative", "scale": {"domain": [0, 6], "nice": false, "zero": false},
   "axis": {"orient": "right", "values": [0,1,2,3,4,5,6], "labelExpr": "datum.value + ',0'", "labelFlush": false, "grid": false, "ticks": true, "tickSize": 5, "tickColor": "#BFBFBF", "domain": true, "domainColor": "#BFBFBF", "labelPadding": 5, "titlePadding": 7, "titleAngle": 270, "titleBaseline": "top", "title": "Precipitació (mm/15min)"}},
  "y2": {"datum": 0}
 }},
{"data": {"name": "rain"}, "mark": {"type": "circle", "size": 42, "color": "#A5A5A5", "opacity": 1},
 "encoding": {
  "x": {"field": "t", "type": "quantitative", "title": "Temps", "scale": {"domain": [0, 47], "nice": false, "zero": false},
   "axis": {"values": [0,1,2,3,4,5,6,7,8,9,10,11,12,13,14,15,16,17,18,19,20,21,22,23,24,25,26,27,28,29,30,31,32,33,34,35,36,37,38,39,40,41,42,43,44,45,46,47], "labelExpr": "datum.value % 5 === 0 ? (datum.value < 29 ? (datum.value + 2) + '-abr.' : (datum.value - 28) + '-may.') : ''", "labelOverlap": false, "labelFlush": false, "ticks": false, "domain": false, "grid": true, "gridColor": {"condition": {"test": "datum.value % 5 === 0", "value": "#A6A6A6"}, "value": "#D9D9D9"}, "gridWidth": {"condition": {"test": "datum.value % 5 === 0", "value": 1}, "value": 1.5}, "labelPadding": 11, "titlePadding": 13, "title": "Temps"}},
  "y": {"field": "p", "type": "quantitative", "scale": {"domain": [0, 6], "nice": false, "zero": false}, "axis": null}
 }},
{"data": {"values": [{}]}, "mark": {"type": "rule", "color": "#A5A5A5", "strokeWidth": 6, "strokeCap": "round"},
 "encoding": {
  "x": {"datum": 0, "type": "quantitative", "title": "Temps", "scale": {"domain": [0, 47], "nice": false, "zero": false},
   "axis": {"values": [0,1,2,3,4,5,6,7,8,9,10,11,12,13,14,15,16,17,18,19,20,21,22,23,24,25,26,27,28,29,30,31,32,33,34,35,36,37,38,39,40,41,42,43,44,45,46,47], "labelExpr": "datum.value % 5 === 0 ? (datum.value < 29 ? (datum.value + 2) + '-abr.' : (datum.value - 28) + '-may.') : ''", "labelOverlap": false, "labelFlush": false, "ticks": false, "domain": false, "grid": true, "gridColor": {"condition": {"test": "datum.value % 5 === 0", "value": "#A6A6A6"}, "value": "#D9D9D9"}, "gridWidth": {"condition": {"test": "datum.value % 5 === 0", "value": 1}, "value": 1.5}, "labelPadding": 11, "titlePadding": 13, "title": "Temps"}},
  "x2": {"datum": 47},
  "y": {"datum": 0, "type": "quantitative", "scale": {"domain": [0, 6], "nice": false, "zero": false}, "axis": null}
 }},
{"data": {"name": "arr2"}, "mark": {"type": "rule", "color": "#C00000", "strokeWidth": 2},
 "encoding": {
  "x": {"field": "t", "type": "quantitative", "title": "Temps", "scale": {"domain": [0, 47], "nice": false, "zero": false},
   "axis": {"values": [0,1,2,3,4,5,6,7,8,9,10,11,12,13,14,15,16,17,18,19,20,21,22,23,24,25,26,27,28,29,30,31,32,33,34,35,36,37,38,39,40,41,42,43,44,45,46,47], "labelExpr": "datum.value % 5 === 0 ? (datum.value < 29 ? (datum.value + 2) + '-abr.' : (datum.value - 28) + '-may.') : ''", "labelOverlap": false, "labelFlush": false, "ticks": false, "domain": false, "grid": true, "gridColor": {"condition": {"test": "datum.value % 5 === 0", "value": "#A6A6A6"}, "value": "#D9D9D9"}, "gridWidth": {"condition": {"test": "datum.value % 5 === 0", "value": 1}, "value": 1.5}, "labelPadding": 11, "titlePadding": 13, "title": "Temps"}},
  "y": {"datum": -3, "type": "quantitative", "scale": {"domain": [-3, 4], "nice": false, "zero": false}, "axis": null},
  "y2": {"datum": -2.18}
 }},
{"data": {"name": "arr2"}, "mark": {"type": "point", "shape": "triangle-up", "filled": true, "color": "#C00000", "size": 45, "opacity": 1},
 "encoding": {
  "x": {"field": "t", "type": "quantitative", "title": "Temps", "scale": {"domain": [0, 47], "nice": false, "zero": false},
   "axis": {"values": [0,1,2,3,4,5,6,7,8,9,10,11,12,13,14,15,16,17,18,19,20,21,22,23,24,25,26,27,28,29,30,31,32,33,34,35,36,37,38,39,40,41,42,43,44,45,46,47], "labelExpr": "datum.value % 5 === 0 ? (datum.value < 29 ? (datum.value + 2) + '-abr.' : (datum.value - 28) + '-may.') : ''", "labelOverlap": false, "labelFlush": false, "ticks": false, "domain": false, "grid": true, "gridColor": {"condition": {"test": "datum.value % 5 === 0", "value": "#A6A6A6"}, "value": "#D9D9D9"}, "gridWidth": {"condition": {"test": "datum.value % 5 === 0", "value": 1}, "value": 1.5}, "labelPadding": 11, "titlePadding": 13, "title": "Temps"}},
  "y": {"datum": -2.16, "type": "quantitative", "scale": {"domain": [-3, 4], "nice": false, "zero": false}, "axis": null}
 }},
{"data": {"values": [{"label": "51"}]}, "mark": {"type": "rect", "fill": "white", "stroke": "black", "strokeWidth": 1},
 "encoding": {
  "x": {"datum": -5.0, "type": "quantitative", "title": "Temps", "scale": {"domain": [0, 47], "nice": false, "zero": false},
   "axis": {"values": [0,1,2,3,4,5,6,7,8,9,10,11,12,13,14,15,16,17,18,19,20,21,22,23,24,25,26,27,28,29,30,31,32,33,34,35,36,37,38,39,40,41,42,43,44,45,46,47], "labelExpr": "datum.value % 5 === 0 ? (datum.value < 29 ? (datum.value + 2) + '-abr.' : (datum.value - 28) + '-may.') : ''", "labelOverlap": false, "labelFlush": false, "ticks": false, "domain": false, "grid": true, "gridColor": {"condition": {"test": "datum.value % 5 === 0", "value": "#A6A6A6"}, "value": "#D9D9D9"}, "gridWidth": {"condition": {"test": "datum.value % 5 === 0", "value": 1}, "value": 1.5}, "labelPadding": 11, "titlePadding": 13, "title": "Temps"}},
  "x2": {"datum": -1.85},
  "y": {"datum": 3.78, "type": "quantitative", "scale": {"domain": [-3, 4], "nice": false, "zero": false}, "axis": null},
  "y2": {"datum": 2.92}
 }},
{"data": {"values": [{"label": "51"}]}, "mark": {"type": "text", "font": "Lato", "fontSize": 25, "color": "black", "align": "center", "baseline": "middle"},
 "encoding": {
  "x": {"datum": -3.43, "type": "quantitative", "title": "Temps", "scale": {"domain": [0, 47], "nice": false, "zero": false},
   "axis": {"values": [0,1,2,3,4,5,6,7,8,9,10,11,12,13,14,15,16,17,18,19,20,21,22,23,24,25,26,27,28,29,30,31,32,33,34,35,36,37,38,39,40,41,42,43,44,45,46,47], "labelExpr": "datum.value % 5 === 0 ? (datum.value < 29 ? (datum.value + 2) + '-abr.' : (datum.value - 28) + '-may.') : ''", "labelOverlap": false, "labelFlush": false, "ticks": false, "domain": false, "grid": true, "gridColor": {"condition": {"test": "datum.value % 5 === 0", "value": "#A6A6A6"}, "value": "#D9D9D9"}, "gridWidth": {"condition": {"test": "datum.value % 5 === 0", "value": 1}, "value": 1.5}, "labelPadding": 11, "titlePadding": 13, "title": "Temps"}},
  "y": {"datum": 3.35, "type": "quantitative", "scale": {"domain": [-3, 4], "nice": false, "zero": false}, "axis": null},
  "text": {"field": "label"}
 }}
]
}
]
}
